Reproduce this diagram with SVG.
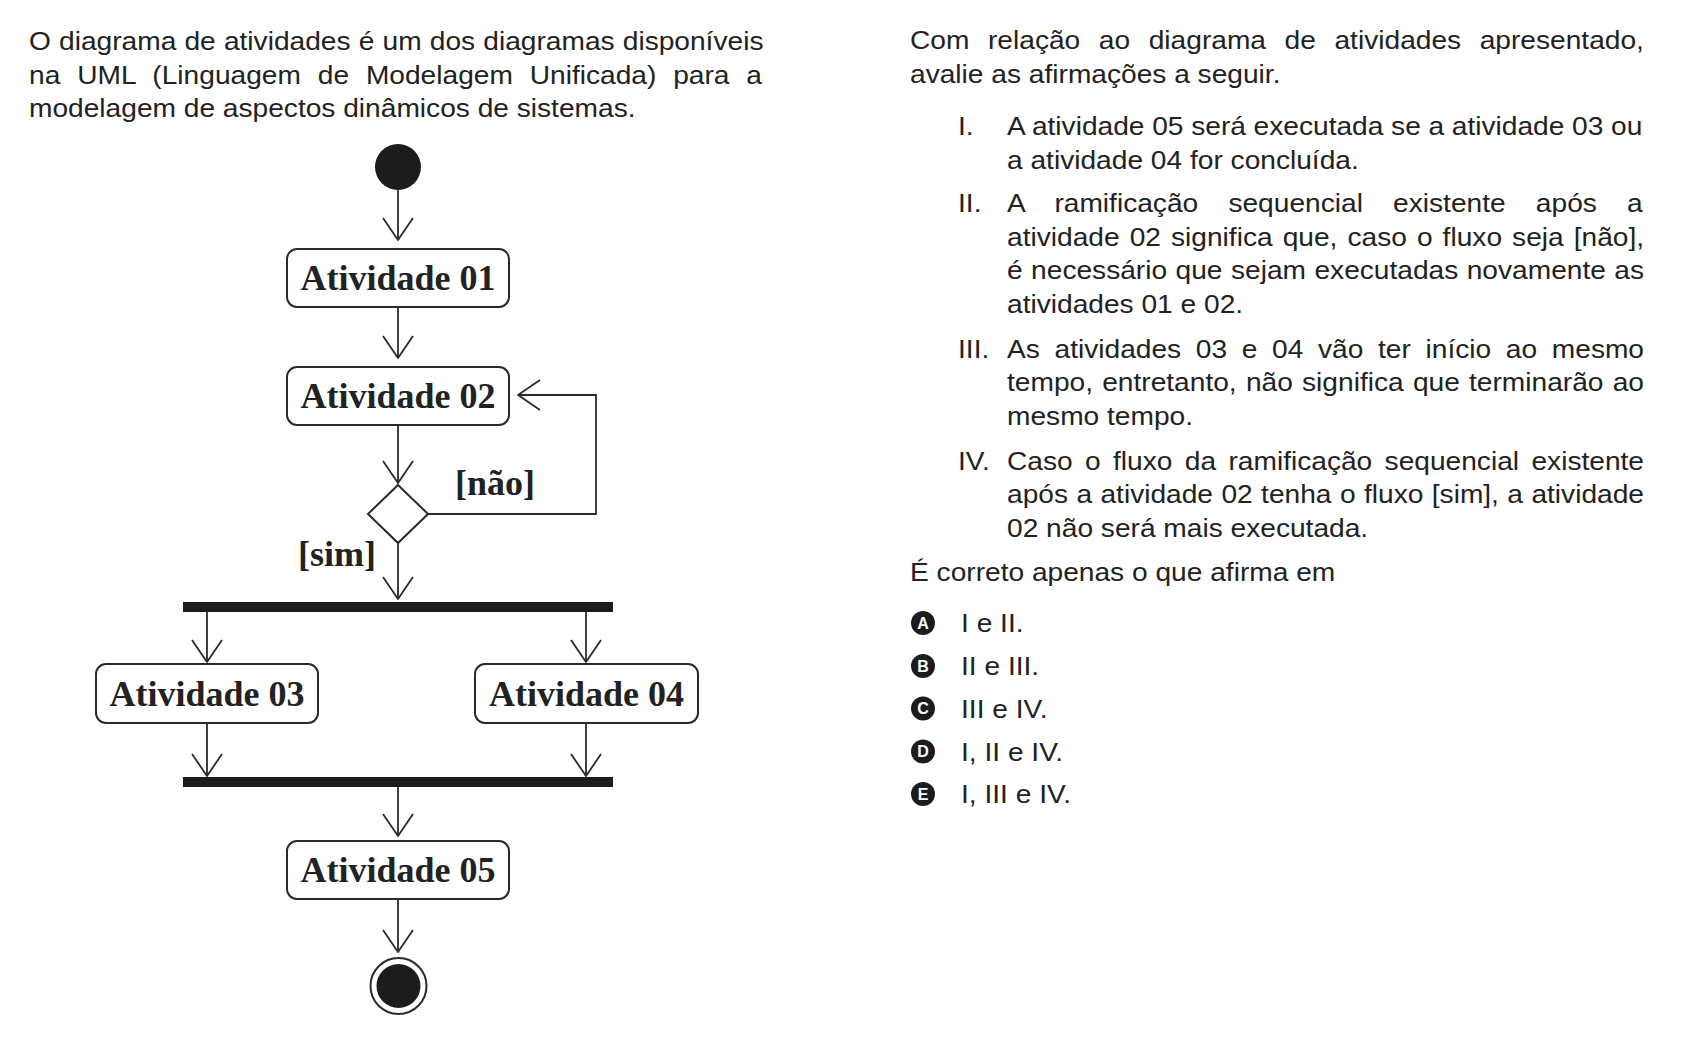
<svg xmlns="http://www.w3.org/2000/svg" width="1692" height="1041" viewBox="0 0 1692 1041">
  <style>
    .body { font-family: "Liberation Sans", Arial, sans-serif; font-size: 26px; fill: #222; }
    .box { fill: #fff; stroke: #2a2a2a; stroke-width: 2; }
    .lbl { font-family: "Liberation Serif", "Times New Roman", serif; font-size: 36px; font-weight: bold; fill: #222; }
    .mid { text-anchor: middle; }
    .conn { fill: none; stroke: #2a2a2a; stroke-width: 1.8; }
    .bar { fill: #1c1c1c; }
    .opt { fill: #1c1c1c; }
    .optl { font-family: "Liberation Sans", Arial, sans-serif; font-size: 16px; font-weight: bold; fill: #fff; text-anchor: middle; }
  </style>
  <defs>
    <marker id="open" viewBox="-24 -17 27 34" refX="0" refY="0" markerWidth="27" markerHeight="34" markerUnits="userSpaceOnUse" orient="auto">
      <path d="M-22,-15 L0,0 L-22,15" fill="none" stroke="#2a2a2a" stroke-width="1.8" stroke-linejoin="round"/>
    </marker>
  </defs>
  <rect width="1692" height="1041" fill="#fff"/>

  <g id="intro" class="body">
    <text transform="translate(29,50) scale(1.082,1)" word-spacing="0.33">O diagrama de atividades é um dos diagramas disponíveis</text>
    <text transform="translate(29,83.5) scale(1.082,1)" word-spacing="8.37">na UML (Linguagem de Modelagem Unificada) para a</text>
    <text transform="translate(29,117) scale(1.082,1)">modelagem de aspectos dinâmicos de sistemas.</text>
  </g>

  <g id="question" class="body">
    <text transform="translate(910,49) scale(1.082,1)" word-spacing="9.98">Com relação ao diagrama de atividades apresentado,</text>
    <text transform="translate(910,82.5) scale(1.082,1)">avalie as afirmações a seguir.</text>

    <text transform="translate(958,135) scale(1.082,1)">I.</text>
    <text transform="translate(1007,135) scale(1.082,1)" word-spacing="-0.1">A atividade 05 será executada se a atividade 03 ou</text>
    <text transform="translate(1007,168.5) scale(1.082,1)">a atividade 04 for concluída.</text>

    <text transform="translate(958,212) scale(1.082,1)">II.</text>
    <text transform="translate(1007,212) scale(1.082,1)" word-spacing="20.7">A ramificação sequencial existente após a</text>
    <text transform="translate(1007,245.5) scale(1.082,1)" word-spacing="2.08">atividade 02 significa que, caso o fluxo seja [não],</text>
    <text transform="translate(1007,279) scale(1.082,1)" word-spacing="0.6">é necessário que sejam executadas novamente as</text>
    <text transform="translate(1007,312.5) scale(1.082,1)">atividades 01 e 02.</text>

    <text transform="translate(958,357.5) scale(1.082,1)">III.</text>
    <text transform="translate(1007,357.5) scale(1.082,1)" word-spacing="6.34">As atividades 03 e 04 vão ter início ao mesmo</text>
    <text transform="translate(1007,391) scale(1.082,1)" word-spacing="1.31">tempo, entretanto, não significa que terminarão ao</text>
    <text transform="translate(1007,424.5) scale(1.082,1)">mesmo tempo.</text>

    <text transform="translate(958,469.5) scale(1.082,1)">IV.</text>
    <text transform="translate(1007,469.5) scale(1.082,1)" word-spacing="4.21">Caso o fluxo da ramificação sequencial existente</text>
    <text transform="translate(1007,503) scale(1.082,1)" word-spacing="0.55">após a atividade 02 tenha o fluxo [sim], a atividade</text>
    <text transform="translate(1007,536.5) scale(1.082,1)">02 não será mais executada.</text>

    <text transform="translate(910,581) scale(1.082,1)">É correto apenas o que afirma em</text>
  </g>

  <g id="options">
    <g id="optA"><circle class="opt" cx="923" cy="623" r="12"/><text class="optl" x="923" y="628.8">A</text><text class="body" transform="translate(961,632) scale(1.082,1)">I e II.</text></g>
    <g id="optB"><circle class="opt" cx="923" cy="666" r="12"/><text class="optl" x="923" y="671.8">B</text><text class="body" transform="translate(961,675) scale(1.082,1)">II e III.</text></g>
    <g id="optC"><circle class="opt" cx="923" cy="708.5" r="12"/><text class="optl" x="923" y="714.3">C</text><text class="body" transform="translate(961,717.5) scale(1.082,1)">III e IV.</text></g>
    <g id="optD"><circle class="opt" cx="923" cy="751.5" r="12"/><text class="optl" x="923" y="757.3">D</text><text class="body" transform="translate(961,760.5) scale(1.082,1)">I, II e IV.</text></g>
    <g id="optE"><circle class="opt" cx="923" cy="794" r="12"/><text class="optl" x="923" y="799.8">E</text><text class="body" transform="translate(961,803) scale(1.082,1)">I, III e IV.</text></g>
  </g>

  <g id="connectors">
    <path class="conn" d="M398,190 V240" marker-end="url(#open)"/>
    <path class="conn" d="M398,307 V358" marker-end="url(#open)"/>
    <path class="conn" d="M398,425 V483" marker-end="url(#open)"/>
    <path class="conn" d="M428,514 H596 V395 H518" marker-end="url(#open)"/>
    <path class="conn" d="M398,543 V599" marker-end="url(#open)"/>
    <path class="conn" d="M207,612 V662" marker-end="url(#open)"/>
    <path class="conn" d="M586,612 V662" marker-end="url(#open)"/>
    <path class="conn" d="M207,723 V776" marker-end="url(#open)"/>
    <path class="conn" d="M586,723 V776" marker-end="url(#open)"/>
    <path class="conn" d="M398,787 V836" marker-end="url(#open)"/>
    <path class="conn" d="M398,899 V952" marker-end="url(#open)"/>
    <text class="lbl" x="455" y="495">[não]</text>
    <text class="lbl" x="376" y="566" text-anchor="end">[sim]</text>
  </g>

  <g id="start"><circle cx="398" cy="167" r="23" fill="#1c1c1c"/></g>

  <g id="act01">
    <rect class="box" x="287" y="249" width="222" height="58" rx="10"/>
    <text class="lbl mid" x="398" y="290">Atividade 01</text>
  </g>
  <g id="act02">
    <rect class="box" x="287" y="367" width="222" height="58" rx="10"/>
    <text class="lbl mid" x="398" y="408">Atividade 02</text>
  </g>
  <g id="decision">
    <polygon points="398,485 428,514 398,543 368,514" fill="#fff" stroke="#2a2a2a" stroke-width="2"/>
  </g>
  <g id="fork"><rect class="bar" x="183" y="602" width="430" height="10"/></g>
  <g id="act03">
    <rect class="box" x="96" y="664" width="222" height="59" rx="10"/>
    <text class="lbl mid" x="207" y="706">Atividade 03</text>
  </g>
  <g id="act04">
    <rect class="box" x="475" y="664" width="223" height="59" rx="10"/>
    <text class="lbl mid" x="586.5" y="706">Atividade 04</text>
  </g>
  <g id="join"><rect class="bar" x="183" y="777" width="430" height="10"/></g>
  <g id="act05">
    <rect class="box" x="287" y="841" width="222" height="58" rx="10"/>
    <text class="lbl mid" x="398" y="882">Atividade 05</text>
  </g>
  <g id="end">
    <circle cx="398.5" cy="986" r="28" fill="#fff" stroke="#2a2a2a" stroke-width="2"/>
    <circle cx="398.5" cy="986" r="22" fill="#1c1c1c"/>
  </g>
</svg>
